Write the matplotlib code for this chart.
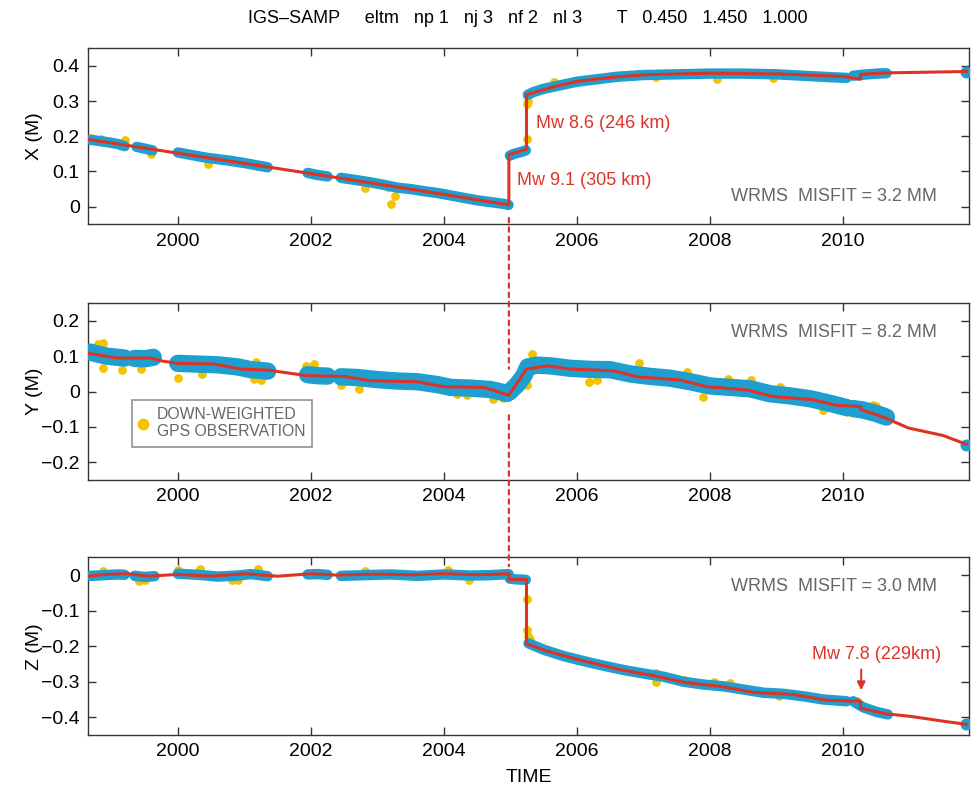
import numpy as np
import matplotlib
matplotlib.use("Agg")
import matplotlib.pyplot as plt
from matplotlib.lines import Line2D
from matplotlib.patches import ConnectionPatch

plt.rcParams['font.family'] = ['Liberation Sans', 'DejaVu Sans']

nan = np.nan
BLUE = '#1f9fd0'
YEL = '#f4c300'
RED = '#dd3327'
GRAY = '#666666'

# ---------------- data ----------------
# observations (band centre), NaN = data gap
obs_t_x = [1998.68, 1998.8, 1998.95, 1999.1, 1999.2, nan,
           1999.38, 1999.5, 1999.62, nan,
           2000.0, 2000.2, 2000.4, 2000.6, 2000.8, 2001.0, 2001.2, 2001.35, nan,
           2001.95, 2002.1, 2002.25, nan,
           2002.45, 2002.7, 2002.9, 2003.1, 2003.3, 2003.5, 2003.7, 2003.9, 2004.1, 2004.3, 2004.5, 2004.7, 2004.9, 2004.97, nan,
           2004.99, 2005.05, 2005.15, 2005.23, nan,
           2005.26, 2005.35, 2005.5, 2005.7, 2006.0, 2006.3, 2006.6, 2007.0, 2007.5, 2008.0, 2008.5, 2009.0, 2009.5, 2009.8, 2010.05, nan,
           2010.15, 2010.3, 2010.5, 2010.65]
obs_x = [0.190, 0.187, 0.183, 0.178, 0.172, nan,
         0.170, 0.165, 0.160, nan,
         0.154, 0.147, 0.140, 0.135, 0.130, 0.124, 0.117, 0.112, nan,
         0.096, 0.090, 0.086, nan,
         0.082, 0.075, 0.069, 0.062, 0.054, 0.050, 0.044, 0.039, 0.032, 0.025, 0.018, 0.013, 0.008, 0.005, nan,
         0.145, 0.150, 0.155, 0.160, nan,
         0.318, 0.326, 0.335, 0.343, 0.355, 0.362, 0.369, 0.374, 0.376, 0.378, 0.378, 0.376, 0.371, 0.368, 0.366, nan,
         0.372, 0.375, 0.378, 0.379]

obs_t_y = [1998.68, 1998.8, 1998.95, 1999.1, 1999.2, nan,
           1999.35, 1999.5, 1999.63, nan,
           2000.0, 2000.3, 2000.6, 2000.9, 2001.1, 2001.35, nan,
           2001.95, 2002.1, 2002.25, nan,
           2002.45, 2002.7, 2003.0, 2003.3, 2003.6, 2003.9, 2004.1, 2004.4, 2004.7, 2004.95, nan,
           2004.99, 2005.1, 2005.2, 2005.26, 2005.4, 2005.6, 2005.9, 2006.2, 2006.5, 2006.8, 2007.1, 2007.4, 2007.7, 2008.0, 2008.3, 2008.6, 2008.9, 2009.2, 2009.5, 2009.8, 2010.05, nan,
           2010.15, 2010.3, 2010.5, 2010.65]
obs_y = [0.112, 0.106, 0.100, 0.097, 0.095, nan,
         0.094, 0.093, 0.097, nan,
         0.080, 0.078, 0.076, 0.070, 0.062, 0.058, nan,
         0.048, 0.045, 0.044, nan,
         0.042, 0.040, 0.034, 0.030, 0.028, 0.020, 0.012, 0.010, 0.006, -0.005, nan,
         0.000, 0.020, 0.045, 0.070, 0.075, 0.073, 0.066, 0.063, 0.062, 0.050, 0.043, 0.038, 0.028, 0.016, 0.012, 0.008, -0.006, -0.012, -0.020, -0.033, -0.045, nan,
         -0.048, -0.052, -0.062, -0.072]

obs_t_z = [1998.68, 1998.9, 1999.1, 1999.2, nan,
           1999.35, 1999.5, 1999.65, nan,
           2000.0, 2000.3, 2000.6, 2000.9, 2001.1, 2001.35, nan,
           2001.95, 2002.1, 2002.25, nan,
           2002.45, 2002.8, 2003.2, 2003.6, 2004.0, 2004.4, 2004.7, 2004.97, nan,
           2004.99, 2005.1, 2005.23, nan,
           2005.27, 2005.5, 2005.8, 2006.1, 2006.4, 2006.7, 2007.0, 2007.3, 2007.6, 2007.9, 2008.2, 2008.5, 2008.8, 2009.1, 2009.4, 2009.7, 2010.05, nan,
           2010.15, 2010.3, 2010.5, 2010.67]
obs_z = [-0.002, 0.000, 0.002, 0.001, nan,
         -0.002, -0.005, -0.003, nan,
         0.004, 0.001, -0.004, -0.001, 0.003, -0.003, nan,
         0.002, 0.003, 0.001, nan,
         -0.002, 0.000, 0.002, -0.002, 0.002, -0.001, 0.000, 0.003, nan,
         -0.010, -0.012, -0.013, nan,
         -0.192, -0.210, -0.228, -0.242, -0.255, -0.267, -0.277, -0.286, -0.300, -0.308, -0.313, -0.322, -0.331, -0.334, -0.341, -0.350, -0.355, nan,
         -0.355, -0.372, -0.385, -0.392]

# last isolated observation
last_t = 2011.85
last_x, last_y, last_z = 0.384, -0.150, -0.420

# down-weighted observations
dw_t_x = [1998.7, 1998.85, 1999.2, 1999.59, 2000.45, 2002.81, 2003.16, 2003.21, 2003.27, 2004.0,
          2005.25, 2005.24, 2005.27, 2005.65, 2007.18, 2008.1, 2008.95]
dw_x = [0.195, 0.193, 0.190, 0.150, 0.120, 0.052, 0.055, 0.008, 0.029, 0.038,
        0.292, 0.192, 0.300, 0.353, 0.369, 0.363, 0.365]

dw_t_y = [1998.8, 1998.88, 1998.88, 1999.16, 1999.45, 2000.0, 2000.36, 2001.18, 2001.14, 2001.25, 2001.93, 2002.05,
          2002.45, 2002.72, 2004.2, 2004.35, 2004.88, 2004.74, 2005.32, 2005.24, 2006.18, 2006.3, 2006.93,
          2007.65, 2007.9, 2008.27, 2008.62, 2009.05, 2009.7, 2010.05, 2010.45, 2010.5, 2010.2]
dw_y = [0.135, 0.139, 0.068, 0.060, 0.065, 0.040, 0.050, 0.085, 0.035, 0.033, 0.073, 0.078,
        0.019, 0.008, -0.007, -0.010, -0.019, -0.020, 0.106, 0.020, 0.028, 0.033, 0.080,
        0.057, -0.014, 0.036, 0.033, 0.012, -0.052, -0.058, -0.037, -0.042, -0.055]

dw_t_z = [1998.87, 1999.41, 1999.5, 2000.0, 2000.34, 2000.81, 2000.9, 2001.2, 2002.81, 2004.06, 2004.38,
          2005.24, 2005.24, 2005.26, 2005.29, 2006.0, 2006.15, 2007.18, 2007.18, 2007.6, 2008.06, 2008.3,
          2009.04, 2009.95, 2010.2]
dw_z = [0.012, -0.017, -0.015, 0.015, 0.018, -0.015, -0.014, 0.016, 0.013, 0.015, -0.015,
        -0.066, -0.153, -0.170, -0.180, -0.240, -0.243, -0.275, -0.300, -0.294, -0.300, -0.304,
        -0.340, -0.352, -0.355]

# model (trajectory) curves
mod_t_x = [1998.66, 2000.0, 2002.0, 2004.0, 2004.975, 2004.975, 2005.24, 2005.24, 2005.6, 2006.0,
           2006.55, 2007.05, 2008.0, 2009.05, 2010.0, 2010.26, 2010.26, 2010.63, 2011.85]
mod_x = [0.191, 0.152, 0.094, 0.035, 0.005, 0.148, 0.163, 0.318, 0.338, 0.356,
         0.368, 0.375, 0.379, 0.377, 0.370, 0.362, 0.376, 0.380, 0.384]

mod_t_y = [1998.66, 1999.1, 1999.6, 1999.75, 2000.0, 2000.55, 2000.95, 2001.35, 2001.95, 2002.5, 2002.9,
           2003.6, 2004.0, 2004.6, 2004.975, 2005.24, 2005.55, 2005.9, 2006.55, 2006.9, 2007.55, 2007.95,
           2008.55, 2008.95, 2009.55, 2009.9, 2010.26, 2010.26, 2010.63, 2010.98, 2011.5, 2011.85]
mod_y = [0.108, 0.095, 0.095, 0.087, 0.080, 0.078, 0.064, 0.061, 0.045, 0.043, 0.031,
         0.028, 0.014, 0.012, -0.010, 0.064, 0.073, 0.064, 0.059, 0.042, 0.033, 0.014,
         0.005, -0.014, -0.023, -0.039, -0.042, -0.050, -0.074, -0.103, -0.124, -0.149]

mod_t_z = [1998.66, 1998.9, 1999.25, 1999.55, 2000.0, 2000.5, 2001.0, 2001.5, 2002.0, 2002.4, 2003.0,
           2003.5, 2004.0, 2004.5, 2004.975, 2004.975, 2005.24, 2005.24, 2005.55, 2006.0, 2006.65, 2007.15,
           2007.65, 2008.15, 2008.65, 2009.25, 2009.75, 2010.26, 2010.26, 2010.63, 2011.03, 2011.5, 2011.85]
mod_z = [-0.003, 0.002, 0.004, -0.003, 0.002, -0.003, 0.004, -0.003, 0.004, 0.000, 0.003,
         0.001, 0.004, 0.001, 0.004, -0.012, -0.012, -0.193, -0.214, -0.237, -0.266, -0.283,
         -0.303, -0.313, -0.330, -0.336, -0.352, -0.355, -0.374, -0.390, -0.398, -0.411, -0.420]

eq_main = 2004.975
eq_2010 = 2010.27

title = "IGS\u2013SAMP     eltm   np 1   nj 3   nf 2   nl 3       T   0.450   1.450   1.000"
ylabels = ["X (M)", "Y (M)", "Z (M)"]
wrms = ["WRMS  MISFIT = 3.2 MM", "WRMS  MISFIT = 8.2 MM", "WRMS  MISFIT = 3.0 MM"]
xticks = [2000, 2002, 2004, 2006, 2008, 2010]

# ---------------- figure ----------------
fig = plt.figure(figsize=(9.75, 7.94), dpi=100)
L, W = 0.0903, 0.9035
pos = [(L, 0.7175, W, 0.2217), (L, 0.3955, W, 0.2225), (L, 0.0743, W, 0.2237)]
ylims = [(-0.05, 0.45), (-0.25, 0.25), (-0.45, 0.05)]
yticks = [[0, 0.1, 0.2, 0.3, 0.4], [-0.2, -0.1, 0, 0.1, 0.2], [-0.4, -0.3, -0.2, -0.1, 0]]
yticklabels = [["0", "0.1", "0.2", "0.3", "0.4"],
               ["\u22120.2", "\u22120.1", "0", "0.1", "0.2"],
               ["\u22120.4", "\u22120.3", "\u22120.2", "\u22120.1", "0"]]

obs = [(obs_t_x, obs_x, last_x, 7.5), (obs_t_y, obs_y, last_y, 12.5), (obs_t_z, obs_z, last_z, 7.5)]
dws = [(dw_t_x, dw_x), (dw_t_y, dw_y), (dw_t_z, dw_z)]
mods = [(mod_t_x, mod_x), (mod_t_y, mod_y), (mod_t_z, mod_z)]
wrms_y = [0.030, 0.167, -0.031]

axes = []
for i in range(3):
    ax = fig.add_axes(pos[i])
    axes.append(ax)
    ax.set_xlim(1998.65, 2011.89)
    ax.set_ylim(*ylims[i])
    t, v, lv, lw = obs[i]
    ax.scatter(dws[i][0], dws[i][1], s=40, color=YEL, zorder=2, linewidths=0)
    ax.plot(t, v, color=BLUE, lw=lw, solid_capstyle='round', solid_joinstyle='round', zorder=3)
    ax.scatter([last_t], [lv], s=75, color=BLUE, zorder=3, linewidths=0)
    ax.plot(mods[i][0], mods[i][1], color=RED, lw=2.2, zorder=4)
    ax.set_xticks(xticks)
    ax.set_xticklabels([str(x) for x in xticks])
    ax.set_yticks(yticks[i])
    ax.set_yticklabels(yticklabels[i])
    ax.tick_params(direction='in', length=6, width=1, top=True, right=True,
                   labelsize=14, pad=6, color='#333333')
    for s in ax.spines.values():
        s.set_linewidth(1.0)
        s.set_color('#333333')
    ax.set_ylabel(ylabels[i], fontsize=14)
    ax.yaxis.set_label_coords(-0.051, 0.5)
    ax.text(2011.41, wrms_y[i], wrms[i], color=GRAY, fontsize=13, ha='right', va='center')

axes[2].set_xlabel("TIME", fontsize=14, labelpad=6)

fig.text(0.541, 0.977, title, ha='center', va='center', fontsize=13,
         family=['Liberation Sans Narrow', 'Liberation Sans', 'DejaVu Sans'])

# earthquake annotations
axes[0].text(2005.10, 0.075, "Mw 9.1 (305 km)", color=RED, fontsize=13, ha='left', va='center')
axes[0].text(2005.385, 0.236, "Mw 8.6 (246 km)", color=RED, fontsize=13, ha='left', va='center')
axes[2].text(2010.50, -0.222, "Mw 7.8 (229km)", color=RED, fontsize=13, ha='center', va='center')
axes[2].annotate("", xy=(eq_2010, -0.332), xytext=(eq_2010, -0.258),
                 arrowprops=dict(arrowstyle='-|>', color=RED, lw=1.5, mutation_scale=12))

# dotted connector at main event
for (a1, y1, a2, y2) in [(axes[0], -0.032, axes[1], 0.065), (axes[1], -0.067, axes[2], 0.025)]:
    cp = ConnectionPatch(xyA=(eq_main, y1), coordsA=a1.transData,
                         xyB=(eq_main, y2), coordsB=a2.transData,
                         color=RED, lw=1.6, linestyle=(0, (2, 2.2)), zorder=10)
    fig.add_artist(cp)

# legend
h = Line2D([], [], marker='o', linestyle='none', markersize=8.5, color=YEL, markeredgewidth=0)
leg = axes[1].legend([h], ["DOWN-WEIGHTED\nGPS OBSERVATION"], loc='lower left',
                     bbox_to_anchor=(0.0405, 0.145), fontsize=11.3, frameon=True, fancybox=False,
                     handlelength=0.6, handletextpad=0.55, borderpad=0.45, labelcolor=GRAY)
leg.get_frame().set_edgecolor('#777777')
leg.get_frame().set_linewidth(1.2)

fig.savefig("out.png", dpi=100)
